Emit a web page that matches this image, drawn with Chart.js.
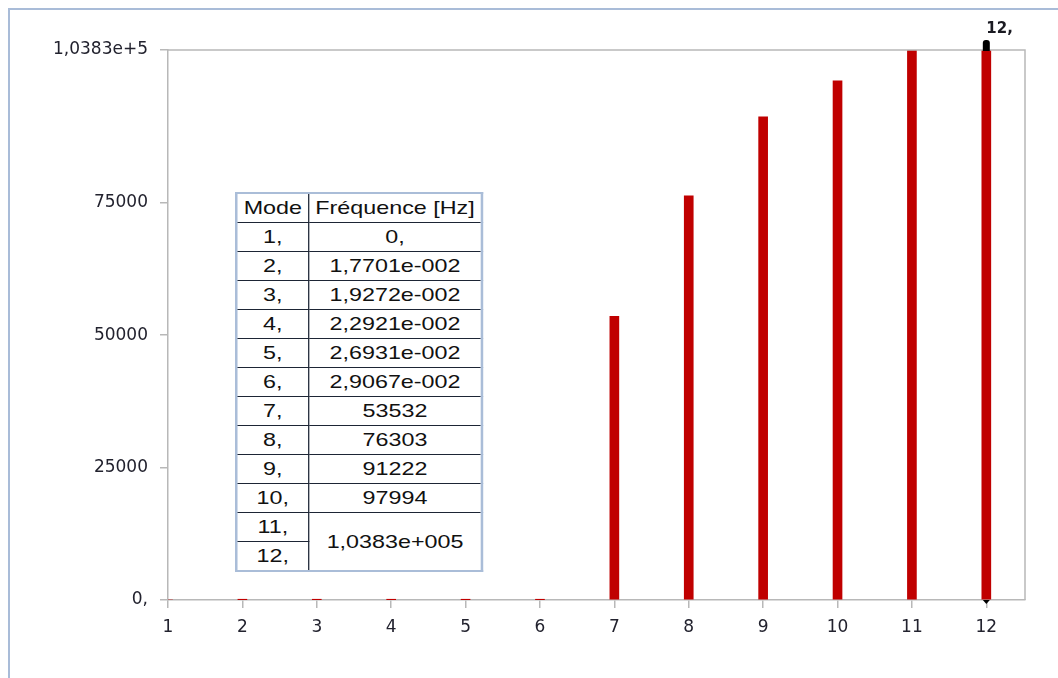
<!DOCTYPE html>
<html>
<head>
<meta charset="utf-8">
<script src="https://cdn.jsdelivr.net/npm/chart.js@4.4.1/dist/chart.umd.min.js"></script>
<style>
  html, body { margin: 0; padding: 0; background: #fff; }
  #wrap { position: relative; width: 1058px; height: 678px; overflow: hidden; }
  #frame {
    position: absolute; left: 8px; top: 8px; right: -4px; bottom: -4px;
    border-left: 2px solid #a9bcd8; border-top: 2px solid #a9bcd8;
  }
  #chartCanvas { position: absolute; left: 0; top: 0; }
  #modeTable {
    position: absolute; left: 235px; top: 192px;
    transform: scaleX(1.26); transform-origin: 0 0;
    border-collapse: collapse;
    border: 2px solid #aabdd8;
    background: #fff;
    font-family: "Liberation Sans", Arial, sans-serif;
    font-size: 18.5px; color: #111;
    width: 197px;
  }
  #modeTable td {
    border: 1.5px solid #1d2535;
    text-align: center; padding: 0; height: 28px; line-height: 20px;
  }
  #modeTable td.mode { width: 56px; }
</style>
</head>
<body>
<div id="wrap">
  <canvas id="chartCanvas" width="1058" height="678"></canvas>
  <table id="modeTable"></table>
  <div id="frame"></div>
</div>
<script>
const modes = [1, 2, 3, 4, 5, 6, 7, 8, 9, 10, 11, 12];
const frequencies = [0, 0.017701, 0.019272, 0.022921, 0.026931, 0.029067, 53532, 76303, 91222, 97994, 103830, 103830];
const modeLabels = ["1,", "2,", "3,", "4,", "5,", "6,", "7,", "8,", "9,", "10,", "11,", "12,"];
const freqLabels = ["0,", "1,7701e-002", "1,9272e-002", "2,2921e-002", "2,6931e-002", "2,9067e-002",
                    "53532", "76303", "91222", "97994", "1,0383e+005", "1,0383e+005"];
const yTickValues = [0, 25000, 50000, 75000, 103830];
const yTickLabels = ["0,", "25000", "50000", "75000", "1,0383e+5"];
const selectedMode = 12;

// Build the table, merging equal consecutive frequency cells
let tableHtml = `<tr><td class="mode">Mode</td><td>Fréquence [Hz]</td></tr>`;
for (let i = 0; i < modes.length; i++) {
  let span = 1;
  let first = i == 0 || freqLabels[i - 1] != freqLabels[i];
  while (first && i + span < modes.length && freqLabels[i + span] == freqLabels[i]) span++;
  tableHtml += `<tr><td class="mode">${modeLabels[i]}</td>` +
    (first ? `<td rowspan="${span}">${freqLabels[i]}</td>` : ``) + `</tr>`;
}
document.getElementById("modeTable").innerHTML = tableHtml;

// Plot frame + selection marker on the chosen mode
const framePlugin = {
  id: "framePlugin",
  afterDatasetsDraw(chart) {
    const ctx = chart.ctx;
    const a = chart.chartArea;
    ctx.save();
    ctx.strokeStyle = "#b8b8b8";
    ctx.lineWidth = 1.5;
    ctx.beginPath();
    ctx.moveTo(a.left, a.top);
    ctx.lineTo(a.right, a.top);
    ctx.lineTo(a.right, a.bottom);
    ctx.stroke();

    const el = chart.getDatasetMeta(0).data[modes.indexOf(selectedMode)];
    ctx.fillStyle = "#000";
    ctx.beginPath();
    ctx.roundRect(el.x - 3.5, el.y - 10, 7, 11, [3, 3, 0, 0]);
    ctx.fill();
    ctx.beginPath();
    ctx.moveTo(el.x - 3.5, a.bottom);
    ctx.lineTo(el.x + 3.5, a.bottom);
    ctx.lineTo(el.x, a.bottom + 4);
    ctx.fill();
    ctx.font = "bold 15px 'DejaVu Sans'";
    ctx.fillStyle = "#1a1a22";
    ctx.textAlign = "left";
    ctx.textBaseline = "alphabetic";
    ctx.fillText(modeLabels[modes.indexOf(selectedMode)], el.x, el.y - 17);
    ctx.restore();
  }
};

Chart.defaults.font.family = "'DejaVu Sans'";
Chart.defaults.font.size = 17;
Chart.defaults.color = "#22222e";

let modesChart = new Chart(document.getElementById("chartCanvas"), {
  type: "bar",
  data: {
    datasets: [{
      label: "Fréquence [Hz]",
      data: modes.map((m, i) => ({ x: m, y: frequencies[i] })),
      backgroundColor: "#c00000",
      barThickness: 9,
    }]
  },
  options: {
    responsive: false,
    devicePixelRatio: 1,
    animation: false,
    layout: { padding: { left: 0, top: 50, right: 33, bottom: 0 } },
    scales: {
      x: {
        type: "linear",
        min: 1,
        max: 12.52,
        offset: false,
        afterBuildTicks: scale => { scale.ticks = modes.map(v => ({ value: v })); },
        afterFit: scale => { scale.height = 78; },
        ticks: { padding: 9, maxRotation: 0, autoSkip: false },
        grid: { offset: false, drawOnChartArea: false, tickLength: 8, color: "#b8b8b8", lineWidth: 1.5 },
        border: { color: "#b8b8b8", width: 1.5 },
      },
      y: {
        min: 0,
        max: 103830,
        afterBuildTicks: scale => { scale.ticks = yTickValues.map(v => ({ value: v })); },
        afterFit: scale => { scale.width = 168; },
        ticks: {
          padding: 12,
          callback: (v) => yTickLabels[yTickValues.indexOf(v)],
        },
        grid: { drawOnChartArea: false, tickLength: 8, color: "#b8b8b8", lineWidth: 1.5 },
        border: { color: "#b8b8b8", width: 1.5 },
      }
    },
    plugins: {
      legend: { display: false },
      tooltip: { enabled: false },
    }
  },
  plugins: [framePlugin]
});
</script>
</body>
</html>
